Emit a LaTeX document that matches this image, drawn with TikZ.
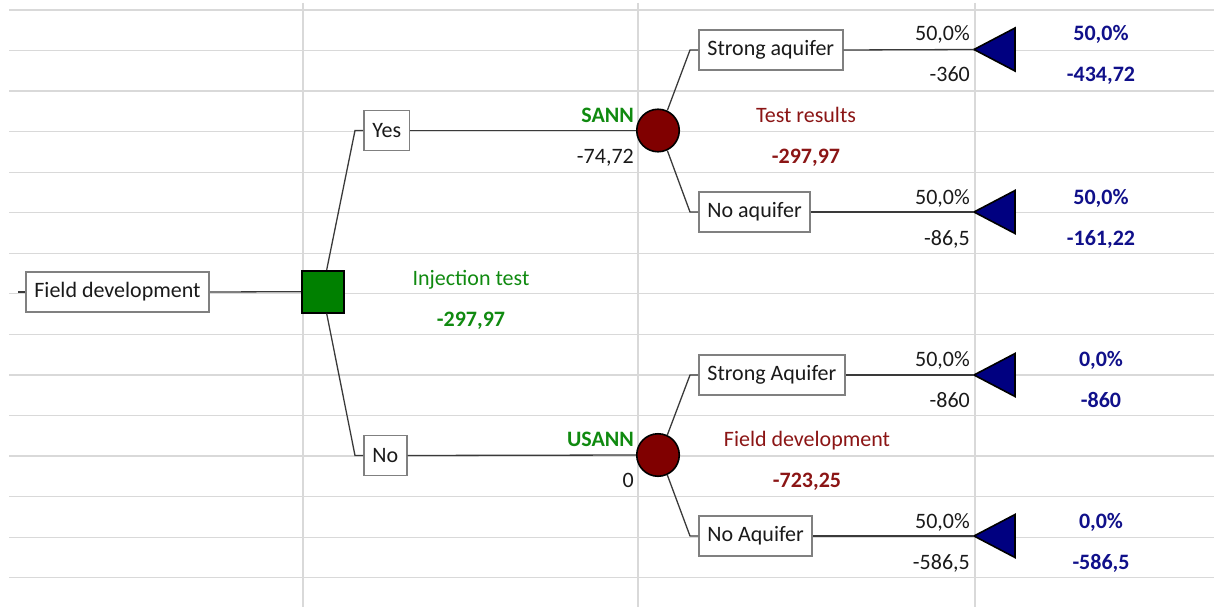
\documentclass[tikz,border=0pt]{standalone}
\usepackage{fontspec}
\setmainfont{Carlito}
\definecolor{gridgray}{HTML}{D9D9D9}
\definecolor{linegray}{HTML}{3A3A3A}
\definecolor{boxgray}{HTML}{808080}
\definecolor{decgreen}{HTML}{008000}
\definecolor{txtgreen}{HTML}{108A10}
\definecolor{chred}{HTML}{800000}
\definecolor{txtred}{HTML}{8B1515}
\definecolor{termblue}{HTML}{000080}
\definecolor{txtblue}{HTML}{10108A}
\definecolor{txt}{HTML}{1A1A1A}
\begin{document}
\begin{tikzpicture}[x=1pt,y=-1pt,
  gridline/.style={draw=gridgray,line width=1.2pt},
  conn/.style={draw=linegray,line width=1.3pt},
  box/.style={draw=boxgray,line width=1.8pt,fill=white,minimum height=40pt,inner xsep=8.5pt,inner ysep=0pt,anchor=west,font=\fontsize{22}{26}\selectfont,text=txt},
  dec/.style={draw=black,line width=1.8pt,fill=decgreen,minimum size=42pt,inner sep=0pt},
  chance/.style={circle,draw=black,line width=1.6pt,fill=chred,minimum size=42.5pt,inner sep=0pt},
  term/.style={draw=black,line width=1.6pt,fill=termblue,line join=miter},
  lab/.style={font=\fontsize{22}{26}\selectfont,text=txt,inner sep=0pt},
  rlab/.style={lab,anchor=base east},
  clab/.style={lab,anchor=base},
  bold/.style={font=\fontsize{22}{26}\selectfont\bfseries}
]
\useasboundingbox (0,0) rectangle (1214,607);
% grid
\foreach \k in {0,...,14}{
  \draw[gridline] (9,{10+40.55*\k}) -- (1214,{10+40.55*\k});
}
\foreach \x in {303,638,975}{
  \draw[gridline] (\x,3) -- (\x,607);
}
% nodes
\node[box] (root) at (25,292) {Field development};
\node[dec] (d) at (322.7,291.7) {};
\node[box] (yes) at (363,130.5) {Yes};
\node[box] (no) at (363,455.5) {No};
\node[chance] (c1) at (658,130.5) {};
\node[chance] (c2) at (658,455) {};
\node[box] (sa) at (698,50) {Strong aquifer};
\node[box] (na) at (698,212) {No aquifer};
\node[box] (sA) at (698,375) {Strong Aquifer};
\node[box] (nA) at (698,536) {No Aquifer};
\foreach \n/\y in {t1/49.5,t2/212,t3/375,t4/536}{
  \coordinate (\n) at (974,\y);
  \draw[term] (\n) -- ++(41,-21.5) -- ++(0,43) -- cycle;
}
% connectors
\draw[conn] (root.west) -- ++(-7,0);
\draw[conn] (root.east) -- (d.west);
\draw[conn] ([xshift=4pt]d.north) -- ([xshift=-8pt]yes.west) -- (yes.west);
\draw[conn] ([xshift=4pt]d.south) -- ([xshift=-8pt]no.west) -- (no.west);
\draw[conn] (yes.east) -- (c1.west);
\draw[conn] (no.east) -- (c2.west);
\draw[conn] (c1.65) -- ([xshift=-8pt]sa.west) -- (sa.west);
\draw[conn] (c1.-65) -- ([xshift=-8pt]na.west) -- (na.west);
\draw[conn] (c2.65) -- ([xshift=-8pt]sA.west) -- (sA.west);
\draw[conn] (c2.-65) -- ([xshift=-8pt]nA.west) -- (nA.west);
\draw[conn] (sa.east) -- (t1);
\draw[conn] (na.east) -- (t2);
\draw[conn] (sA.east) -- (t3);
\draw[conn] (nA.east) -- (t4);
% labels
\node[clab,text=txtgreen] (l1) at (471,285) {Injection test};
\node[clab,bold,text=txtgreen] (l2) at (471,326) {-297,97};
\node[rlab,bold,text=txtgreen] (l3) at (634,122) {SANN};
\node[rlab] (l4) at (634,163) {-74,72};
\node[clab,text=txtred] (l5) at (806,122) {Test results};
\node[clab,bold,text=txtred] (l6) at (806,163) {-297,97};
\node[rlab,bold,text=txtgreen] (l7) at (634,446) {USANN};
\node[rlab] (l8) at (634,487) {0};
\node[clab,text=txtred] (l9) at (807,446) {Field development};
\node[clab,bold,text=txtred] (l10) at (807,487) {-723,25};
% terminal labels
\node[rlab] (p1) at (970,41) {50,0\%};
\node[rlab] (v1) at (970,82) {-360};
\node[clab,bold,text=txtblue] (bp1) at (1101,41) {50,0\%};
\node[clab,bold,text=txtblue] (bv1) at (1101,82) {-434,72};
\node[rlab] (p2) at (970,204) {50,0\%};
\node[rlab] (v2) at (970,245) {-86,5};
\node[clab,bold,text=txtblue] (bp2) at (1101,204) {50,0\%};
\node[clab,bold,text=txtblue] (bv2) at (1101,245) {-161,22};
\node[rlab] (p3) at (970,366) {50,0\%};
\node[rlab] (v3) at (970,407) {-860};
\node[clab,bold,text=txtblue] (bp3) at (1101,366) {0,0\%};
\node[clab,bold,text=txtblue] (bv3) at (1101,407) {-860};
\node[rlab] (p4) at (970,528) {50,0\%};
\node[rlab] (v4) at (970,569) {-586,5};
\node[clab,bold,text=txtblue] (bp4) at (1101,528) {0,0\%};
\node[clab,bold,text=txtblue] (bv4) at (1101,569) {-586,5};
\end{tikzpicture}
\end{document}
